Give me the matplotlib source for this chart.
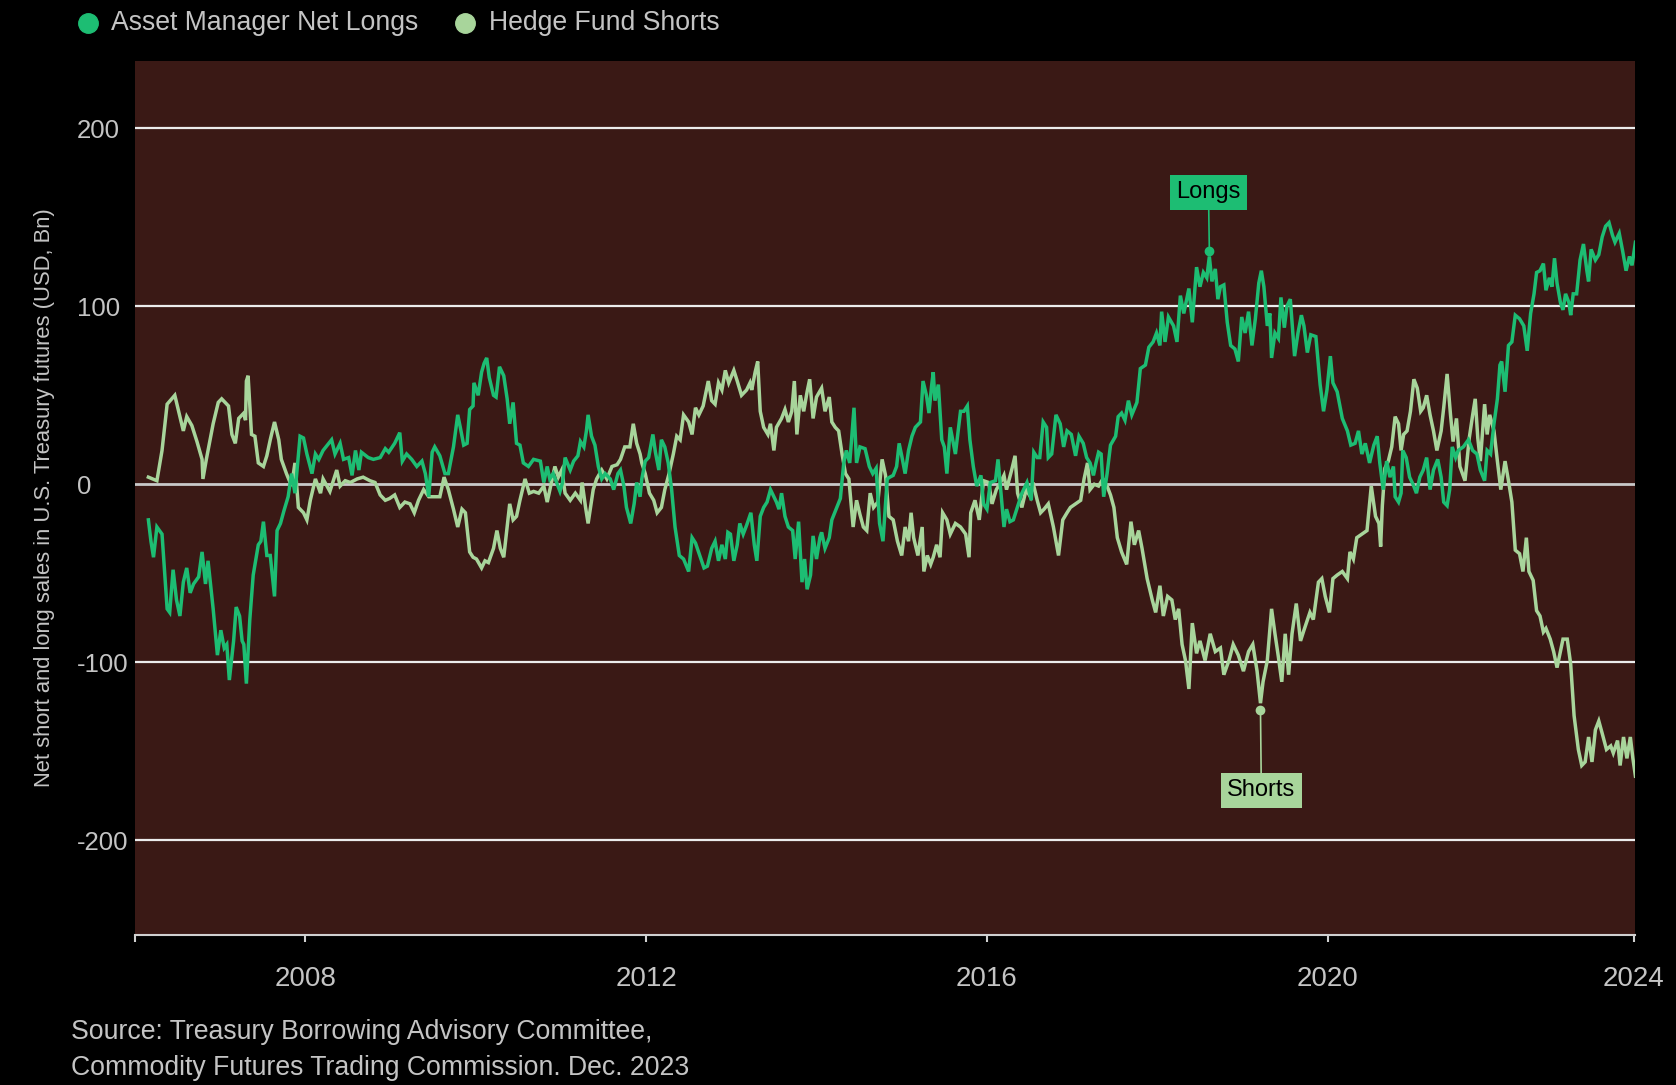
import matplotlib
matplotlib.use('Agg')
import matplotlib.pyplot as plt
from matplotlib.lines import Line2D

plt.rcParams['font.family'] = ['Liberation Sans', 'DejaVu Sans']

# Hedge Fund Shorts (USD bn)
hf_years = [
    2006.16, 2006.26, 2006.32, 2006.38, 2006.47, 2006.51, 2006.57, 2006.61, 2006.67, 2006.73,
    2006.79, 2006.80, 2006.84, 2006.92, 2006.98, 2007.02, 2007.10, 2007.14, 2007.18, 2007.22,
    2007.28, 2007.30, 2007.31, 2007.33, 2007.37, 2007.41, 2007.45, 2007.51, 2007.55, 2007.59,
    2007.64, 2007.69, 2007.72, 2007.78, 2007.84, 2007.88, 2007.92, 2007.98, 2008.02, 2008.06,
    2008.12, 2008.18, 2008.21, 2008.29, 2008.37, 2008.41, 2008.47, 2008.53, 2008.61, 2008.68,
    2008.76, 2008.82, 2008.88, 2008.94, 2008.99, 2009.05, 2009.11, 2009.17, 2009.23, 2009.28,
    2009.33, 2009.39, 2009.45, 2009.52, 2009.58, 2009.63, 2009.68, 2009.74, 2009.79, 2009.84,
    2009.88, 2009.93, 2009.97, 2010.01, 2010.07, 2010.11, 2010.15, 2010.21, 2010.25, 2010.29,
    2010.33, 2010.36, 2010.40, 2010.44, 2010.48, 2010.52, 2010.58, 2010.63, 2010.68, 2010.74,
    2010.80, 2010.84, 2010.89, 2010.93, 2010.97, 2011.01, 2011.05, 2011.11, 2011.17, 2011.23,
    2011.25, 2011.29, 2011.32, 2011.38, 2011.42, 2011.48, 2011.54, 2011.60, 2011.66, 2011.70,
    2011.75, 2011.81, 2011.85, 2011.89, 2011.93, 2011.95, 2011.99, 2012.04, 2012.09, 2012.13,
    2012.18, 2012.22, 2012.27, 2012.32, 2012.36, 2012.40, 2012.44, 2012.50, 2012.54, 2012.58,
    2012.62, 2012.67, 2012.73, 2012.77, 2012.81, 2012.85, 2012.89, 2012.93, 2012.97, 2013.03,
    2013.07, 2013.12, 2013.18, 2013.22, 2013.24, 2013.28, 2013.31, 2013.34, 2013.38, 2013.43,
    2013.46, 2013.50, 2013.53, 2013.59, 2013.63, 2013.67, 2013.71, 2013.74, 2013.77, 2013.81,
    2013.85, 2013.89, 2013.92, 2013.96, 2014.00, 2014.06, 2014.10, 2014.15, 2014.18, 2014.22,
    2014.26, 2014.30, 2014.34, 2014.38, 2014.41, 2014.43, 2014.47, 2014.51, 2014.55, 2014.59,
    2014.63, 2014.67, 2014.72, 2014.77, 2014.81, 2014.85, 2014.90, 2014.95, 2015.00, 2015.04,
    2015.08, 2015.11, 2015.14, 2015.19, 2015.24, 2015.26, 2015.30, 2015.34, 2015.37, 2015.41,
    2015.45, 2015.48, 2015.53, 2015.57, 2015.63, 2015.69, 2015.75, 2015.79, 2015.81, 2015.86,
    2015.91, 2015.96, 2016.02, 2016.06, 2016.11, 2016.16, 2016.20, 2016.23, 2016.29, 2016.33,
    2016.36, 2016.41, 2016.46, 2016.51, 2016.54, 2016.59, 2016.63, 2016.67, 2016.72, 2016.78,
    2016.84, 2016.89, 2016.94, 2016.98, 2017.04, 2017.10, 2017.14, 2017.18, 2017.21, 2017.26,
    2017.31, 2017.36, 2017.41, 2017.45, 2017.49, 2017.53, 2017.58, 2017.64, 2017.69, 2017.73,
    2017.78, 2017.82, 2017.88, 2017.94, 2017.98, 2018.03, 2018.07, 2018.12, 2018.17, 2018.21,
    2018.25, 2018.29, 2018.33, 2018.37, 2018.41, 2018.46, 2018.50, 2018.56, 2018.62, 2018.68,
    2018.74, 2018.78, 2018.84, 2018.89, 2018.95, 2019.01, 2019.07, 2019.12, 2019.17, 2019.21,
    2019.24, 2019.29, 2019.34, 2019.38, 2019.42, 2019.46, 2019.50, 2019.54, 2019.58, 2019.63,
    2019.68, 2019.72, 2019.79, 2019.83, 2019.89, 2019.93, 2019.97, 2020.02, 2020.06, 2020.11,
    2020.17, 2020.23, 2020.26, 2020.30, 2020.34, 2020.40, 2020.46, 2020.51, 2020.56, 2020.60,
    2020.62, 2020.64, 2020.67, 2020.71, 2020.75, 2020.79, 2020.83, 2020.86, 2020.89, 2020.93,
    2020.97, 2021.01, 2021.05, 2021.09, 2021.12, 2021.16, 2021.20, 2021.24, 2021.28, 2021.33,
    2021.36, 2021.40, 2021.44, 2021.47, 2021.51, 2021.55, 2021.61, 2021.66, 2021.70, 2021.73,
    2021.76, 2021.79, 2021.84, 2021.87, 2021.90, 2021.95, 2021.99, 2022.03, 2022.08, 2022.12,
    2022.16, 2022.20, 2022.25, 2022.29, 2022.33, 2022.36, 2022.41, 2022.45, 2022.49, 2022.53,
    2022.56, 2022.61, 2022.65, 2022.69, 2022.73, 2022.76, 2022.81, 2022.85, 2022.89, 2022.94,
    2022.98, 2023.02, 2023.06, 2023.10, 2023.14, 2023.18, 2023.22, 2023.27, 2023.32, 2023.35,
    2023.40, 2023.43, 2023.47, 2023.51, 2023.55, 2023.58, 2023.61,
]
hf_values = [
    4, 2, 19, 45, 50, 42, 30, 38, 33, 24,
    14, 3, 14, 34, 46, 48, 44, 28, 23, 37,
    40, 36, 58, 61, 28, 27, 12, 10, 16, 25,
    35, 25, 14, 6, -1, 12, -13, -16, -20, -9,
    3, -5, 3, -4, 8, -1, 2, 1, 3, 4,
    2, 1, -6, -9, -8, -6, -13, -10, -11, -16,
    -9, -3, -7, -7, -7, 4, -3, -14, -24, -14,
    -16, -38, -41, -42, -47, -43, -44, -36, -26, -36,
    -41, -28, -11, -20, -18, -9, 3, -5, -4, -5,
    -1, -10, 1, 10, 4, 8, -5, -9, -5, -9,
    1, -13, -22, -3, 3, 8, 3, 10, 11, 14,
    21, 21, 34, 23, 17, 12, 6, -5, -9, -16,
    -13, -3, 6, 17, 27, 25, 39, 35, 28, 43,
    39, 44, 58, 47, 45, 57, 53, 64, 57, 64,
    58, 50, 53, 57, 53, 63, 69, 41, 32, 28,
    34, 19, 32, 37, 42, 35, 41, 58, 28, 50,
    41, 52, 59, 37, 49, 54, 41, 49, 35, 32,
    30, 17, 6, 3, -13, -24, -9, -17, -24, -26,
    -5, -13, -10, 14, 5, -18, -20, -32, -40, -24,
    -32, -16, -30, -40, -24, -49, -40, -45, -41, -34,
    -41, -16, -20, -28, -22, -24, -28, -41, -16, -9,
    -20, 2, 1, -11, -3, 1, 5, -3, 8, 16,
    -5, -13, -3, -7, 1, -9, -16, -14, -11, -24,
    -40, -20, -16, -13, -11, -9, 3, 12, -3, 0,
    -1, 3, -1, -6, -13, -30, -38, -45, -21, -34,
    -26, -36, -53, -65, -72, -57, -74, -63, -65, -76,
    -70, -90, -99, -115, -78, -95, -88, -99, -84, -94,
    -92, -107, -99, -90, -96, -105, -94, -90, -105, -123,
    -111, -99, -70, -84, -97, -111, -84, -107, -84, -67,
    -88, -82, -72, -76, -55, -53, -63, -72, -53, -51,
    -49, -53, -38, -42, -30, -28, -26, -1, -18, -22,
    -35, -12, 9, 13, 21, 38, 34, 19, 28, 30,
    41, 59, 54, 41, 43, 50, 39, 30, 19, 30,
    43, 62, 39, 24, 37, 10, 2, 26, 39, 48,
    26, 13, 45, 28, 39, 30, 13, -3, 13, 2,
    -10, -37, -39, -49, -30, -49, -54, -71, -74, -83,
    -81, -87, -94, -103, -94, -87, -87, -101, -130, -149,
    -158, -156, -142, -156, -138, -133, -140, -149, -147, -151,
    -144, -158, -142, -154, -142, -154, -164,
]

# Asset Manager Net Longs (USD bn)
am_years = [
    2006.16, 2006.19, 2006.22, 2006.26, 2006.32, 2006.38, 2006.41, 2006.45, 2006.49, 2006.53,
    2006.57, 2006.61, 2006.65, 2006.69, 2006.75, 2006.79, 2006.83, 2006.86, 2006.92, 2006.97,
    2007.01, 2007.05, 2007.08, 2007.11, 2007.16, 2007.19, 2007.23, 2007.26, 2007.28, 2007.31,
    2007.35, 2007.39, 2007.45, 2007.48, 2007.51, 2007.55, 2007.59, 2007.64, 2007.67, 2007.71,
    2007.75, 2007.80, 2007.84, 2007.88, 2007.94, 2007.98, 2008.02, 2008.08, 2008.12, 2008.16,
    2008.21, 2008.31, 2008.35, 2008.41, 2008.45, 2008.51, 2008.55, 2008.59, 2008.63, 2008.66,
    2008.74, 2008.80, 2008.88, 2008.94, 2008.98, 2009.05, 2009.11, 2009.14, 2009.19, 2009.25,
    2009.31, 2009.37, 2009.41, 2009.45, 2009.49, 2009.52, 2009.58, 2009.64, 2009.68, 2009.74,
    2009.79, 2009.82, 2009.86, 2009.90, 2009.93, 2009.97, 2009.98, 2010.03, 2010.07, 2010.10,
    2010.13, 2010.16, 2010.21, 2010.24, 2010.28, 2010.33, 2010.37, 2010.40, 2010.44, 2010.48,
    2010.52, 2010.56, 2010.62, 2010.68, 2010.76, 2010.80, 2010.84, 2010.87, 2010.91, 2010.95,
    2010.99, 2011.02, 2011.05, 2011.11, 2011.15, 2011.20, 2011.23, 2011.27, 2011.30, 2011.32,
    2011.36, 2011.40, 2011.44, 2011.48, 2011.52, 2011.58, 2011.62, 2011.67, 2011.70, 2011.74,
    2011.77, 2011.82, 2011.86, 2011.89, 2011.93, 2011.95, 2011.99, 2012.03, 2012.08, 2012.11,
    2012.15, 2012.18, 2012.22, 2012.26, 2012.30, 2012.34, 2012.39, 2012.44, 2012.50, 2012.54,
    2012.58, 2012.63, 2012.68, 2012.72, 2012.77, 2012.81, 2012.85, 2012.89, 2012.93, 2012.96,
    2012.99, 2013.03, 2013.07, 2013.10, 2013.14, 2013.18, 2013.23, 2013.27, 2013.30, 2013.34,
    2013.38, 2013.42, 2013.46, 2013.50, 2013.53, 2013.56, 2013.59, 2013.63, 2013.67, 2013.72,
    2013.75, 2013.79, 2013.83, 2013.86, 2013.89, 2013.93, 2013.96, 2014.00, 2014.04, 2014.06,
    2014.10, 2014.15, 2014.18, 2014.23, 2014.28, 2014.32, 2014.35, 2014.39, 2014.41, 2014.44,
    2014.47, 2014.51, 2014.57, 2014.62, 2014.66, 2014.70, 2014.74, 2014.78, 2014.83, 2014.86,
    2014.90, 2014.94, 2014.97, 2015.00, 2015.04, 2015.08, 2015.12, 2015.16, 2015.22, 2015.25,
    2015.29, 2015.32, 2015.35, 2015.37, 2015.39, 2015.43, 2015.47, 2015.50, 2015.53, 2015.57,
    2015.63, 2015.69, 2015.73, 2015.77, 2015.80, 2015.84, 2015.88, 2015.93, 2015.96, 2016.00,
    2016.04, 2016.10, 2016.13, 2016.18, 2016.20, 2016.23, 2016.27, 2016.31, 2016.35, 2016.41,
    2016.47, 2016.52, 2016.55, 2016.59, 2016.62, 2016.66, 2016.70, 2016.72, 2016.76, 2016.81,
    2016.86, 2016.90, 2016.94, 2016.99, 2017.04, 2017.08, 2017.13, 2017.17, 2017.21, 2017.25,
    2017.28, 2017.31, 2017.34, 2017.37, 2017.41, 2017.45, 2017.51, 2017.54, 2017.58, 2017.62,
    2017.66, 2017.70, 2017.76, 2017.80, 2017.86, 2017.90, 2017.95, 2017.99, 2018.03, 2018.05,
    2018.09, 2018.13, 2018.19, 2018.23, 2018.27, 2018.31, 2018.37, 2018.41, 2018.46, 2018.50,
    2018.54, 2018.58, 2018.61, 2018.64, 2018.68, 2018.71, 2018.74, 2018.78, 2018.82, 2018.86,
    2018.91, 2018.95, 2018.99, 2019.03, 2019.07, 2019.11, 2019.15, 2019.19, 2019.22, 2019.25,
    2019.29, 2019.32, 2019.34, 2019.38, 2019.42, 2019.45, 2019.49, 2019.52, 2019.56, 2019.61,
    2019.65, 2019.69, 2019.72, 2019.76, 2019.80, 2019.86, 2019.91, 2019.95, 2019.99, 2020.03,
    2020.06, 2020.11, 2020.17, 2020.23, 2020.27, 2020.32, 2020.36, 2020.40, 2020.44, 2020.49,
    2020.54, 2020.58, 2020.61, 2020.65, 2020.69, 2020.73, 2020.77, 2020.79, 2020.83, 2020.86,
    2020.88, 2020.92, 2020.96, 2021.00, 2021.04, 2021.08, 2021.12, 2021.16, 2021.20, 2021.24,
    2021.29, 2021.33, 2021.36, 2021.40, 2021.43, 2021.46, 2021.50, 2021.53, 2021.59, 2021.65,
    2021.70, 2021.75, 2021.79, 2021.84, 2021.87, 2021.91, 2021.95, 2021.99, 2022.02, 2022.04,
    2022.08, 2022.12, 2022.16, 2022.20, 2022.25, 2022.30, 2022.34, 2022.38, 2022.42, 2022.45,
    2022.49, 2022.53, 2022.56, 2022.60, 2022.63, 2022.66, 2022.69, 2022.73, 2022.76, 2022.79,
    2022.83, 2022.85, 2022.88, 2022.92, 2022.96, 2023.00, 2023.04, 2023.06, 2023.09, 2023.14,
    2023.18, 2023.22, 2023.26, 2023.30, 2023.34, 2023.37, 2023.42, 2023.46, 2023.50, 2023.54,
    2023.57, 2023.61,
]
am_values = [
    -20, -32, -41, -24, -28, -70, -72, -48, -65, -74,
    -55, -47, -61, -56, -52, -38, -56, -43, -70, -96,
    -82, -92, -90, -110, -88, -69, -74, -88, -90, -112,
    -76, -51, -34, -32, -21, -40, -40, -63, -26, -22,
    -15, -7, 6, -5, 27, 26, 17, 6, 17, 14,
    19, 25, 17, 23, 14, 15, 5, 19, 8, 18,
    15, 14, 15, 20, 18, 23, 29, 13, 17, 14,
    10, 13, 6, -7, 18, 21, 16, 6, 6, 21,
    39, 32, 22, 23, 42, 44, 57, 50, 63, 68,
    71, 60, 50, 49, 66, 61, 48, 34, 46, 23,
    22, 12, 10, 14, 13, 1, 10, 3, 6, 1,
    -4, 1, 15, 8, 13, 16, 24, 21, 30, 39,
    27, 22, 10, 3, 6, 3, -3, 6, 8, -1,
    -13, -22, -11, 1, -7, 3, 13, 15, 28, 18,
    8, 25, 21, 12, -3, -24, -40, -42, -49, -30,
    -33, -40, -47, -46, -36, -32, -43, -34, -42, -27,
    -28, -43, -34, -22, -28, -23, -16, -34, -43, -18,
    -13, -10, -3, -7, -10, -14, -5, -18, -24, -26,
    -42, -21, -55, -42, -59, -51, -29, -42, -30, -27,
    -36, -30, -20, -14, -8, 12, 19, 12, 24, 43,
    12, 21, 20, 10, 6, 9, -22, -32, 3, 4,
    5, 10, 23, 16, 6, 19, 27, 32, 35, 58,
    50, 40, 55, 63, 47, 56, 25, 21, 6, 32,
    17, 41, 41, 44, 25, 10, -1, 5, -11, -14,
    1, 2, 14, -13, -24, -14, -21, -20, -14, -5,
    1, -9, 18, 15, 15, 35, 32, 15, 17, 39,
    34, 21, 30, 28, 16, 27, 23, 15, 12, 5,
    12, 18, 17, -7, 6, 22, 27, 38, 40, 36,
    47, 39, 46, 65, 67, 77, 80, 85, 78, 97,
    80, 94, 89, 80, 106, 96, 110, 91, 122, 111,
    119, 116, 128, 114, 121, 104, 111, 112, 91, 78,
    76, 69, 94, 85, 97, 78, 93, 113, 120, 111,
    89, 96, 71, 85, 82, 105, 88, 100, 104, 72,
    85, 95, 89, 74, 84, 83, 56, 41, 53, 72,
    57, 52, 37, 30, 22, 23, 30, 17, 23, 12,
    22, 27, 12, -3, 13, 4, 10, -7, -10, -5,
    19, 15, 4, 0, -5, 4, 8, 15, -3, 8,
    14, 4, -10, -12, -3, 21, 15, 19, 21, 25,
    19, 17, 8, 2, 19, 17, 34, 48, 67, 69,
    52, 78, 80, 95, 93, 89, 75, 96, 107, 119,
    120, 124, 109, 116, 111, 127, 113, 102, 98, 107,
    102, 95, 107, 107, 126, 135, 120, 114, 132, 126,
    129, 139, 145, 147, 140, 136, 141, 131, 120, 128,
    123, 136,
]

yticks = [-200, -100, 0, 100, 200]
xtick_pos = [2006.0, 2008, 2012, 2016, 2020, 2023.59]
xtick_labels = ['', '2008', '2012', '2016', '2020', '2024']

longs_point = (2018.61, 131)
longs_box = (2018.60, 164)
shorts_point = (2019.21, -127)
shorts_box = (2019.22, -172)

GREEN = '#1dbd73'
LIGHT = '#a8d59b'
BG = '#3a1915'
TXT = '#c4c4c4'

fig = plt.figure(figsize=(16.76, 10.85), dpi=100, facecolor='black')
ax = fig.add_axes([0.0804, 0.138, 0.8954, 0.8059])
ax.set_facecolor(BG)

for v in yticks:
    if v == 0:
        ax.axhline(v, color='#c9c9c9', lw=2.0, zorder=1)
    else:
        ax.axhline(v, color='#ececec', lw=1.6, zorder=1)

ax.plot(hf_years, hf_values, color=LIGHT, lw=2.5, zorder=3, solid_joinstyle='miter')
ax.plot(am_years, am_values, color=GREEN, lw=2.5, zorder=4, solid_joinstyle='miter')

ax.set_xlim(2006.0, 2023.61)
ax.set_ylim(-253.4, 237.9)

for s in ['top', 'right', 'left']:
    ax.spines[s].set_visible(False)
ax.spines['bottom'].set_color('#d0d0d0')
ax.spines['bottom'].set_linewidth(1.5)

ax.set_yticks(yticks)
ax.set_yticklabels([str(v) for v in yticks], ha='left')
ax.tick_params(axis='y', length=0, pad=41.5, labelsize=18.5, labelcolor=TXT)
ax.set_xticks(xtick_pos)
ax.set_xticklabels(xtick_labels)
ax.tick_params(axis='x', length=5, width=1.5, color='#d0d0d0', pad=17,
               labelsize=20, labelcolor=TXT)

# annotations
ax.plot([longs_point[0], longs_box[0]], [longs_point[1], longs_box[1]], color=GREEN, lw=1.2, zorder=5)
ax.plot(*longs_point, 'o', color=GREEN, ms=6, zorder=6)
ax.text(longs_box[0], longs_box[1], 'Longs', fontsize=17, color='black', ha='center', va='center',
        zorder=7, bbox=dict(boxstyle='square,pad=0.28', fc=GREEN, ec='none'))
ax.plot([shorts_point[0], shorts_box[0]], [shorts_point[1], shorts_box[1]], color=LIGHT, lw=1.2, zorder=5)
ax.plot(*shorts_point, 'o', color=LIGHT, ms=6, zorder=6)
ax.text(shorts_box[0], shorts_box[1], 'Shorts', fontsize=17, color='black', ha='center', va='center',
        zorder=7, bbox=dict(boxstyle='square,pad=0.28', fc=LIGHT, ec='none'))

# legend
leg_y = 1 - 22.5 / 1085
fig.add_artist(Line2D([87.6 / 1676], [leg_y], marker='o', ms=14, color=GREEN,
                      transform=fig.transFigure))
fig.text(111 / 1676, leg_y, 'Asset Manager Net Longs', color=TXT, fontsize=19.2, va='center')
fig.add_artist(Line2D([465 / 1676], [leg_y], marker='o', ms=14, color=LIGHT,
                      transform=fig.transFigure))
fig.text(488.5 / 1676, leg_y, 'Hedge Fund Shorts', color=TXT, fontsize=19.2, va='center')

fig.text(45 / 1676, 1 - 498 / 1085, 'Net short and long sales in U.S. Treasury futures (USD, Bn)',
         rotation=90, color=TXT, fontsize=15.8, ha='center', va='center')

fig.text(70.5 / 1676, 1 - 1032 / 1085, 'Source: Treasury Borrowing Advisory Committee,',
         color=TXT, fontsize=19.2, va='center')
fig.text(70.5 / 1676, 1 - 1068 / 1085, 'Commodity Futures Trading Commission. Dec. 2023',
         color=TXT, fontsize=19.2, va='center')

fig.savefig('out.png', dpi=100, facecolor='black')
